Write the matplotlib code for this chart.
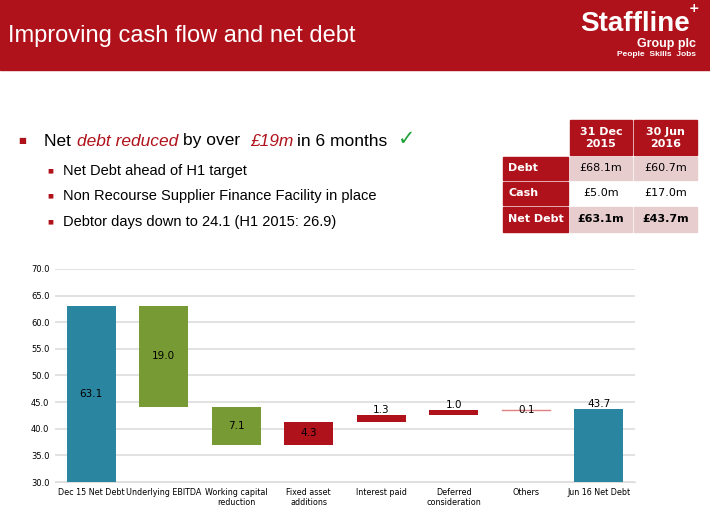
import matplotlib.pyplot as plt
from matplotlib.patches import Rectangle

RED = '#B0121B'
TEAL = '#2A86A0'
GREEN = '#779A35'
PINK = '#E8CDCF'

categories = ['Dec 15 Net Debt', 'Underlying EBITDA', 'Working capital\nreduction',
              'Fixed asset\nadditions', 'Interest paid', 'Deferred\nconsideration',
              'Others', 'Jun 16 Net Debt']
changes = [63.1, -19.0, -7.1, 4.3, 1.3, 1.0, 0.1, 43.7]
kinds = ['total', 'down', 'down', 'up', 'up', 'up', 'up', 'total']

table_cols = ['31 Dec\n2015', '30 Jun\n2016']
table_rows = ['Debt', 'Cash', 'Net Debt']
table_vals = [['£68.1m', '£60.7m'], ['£5.0m', '£17.0m'], ['£63.1m', '£43.7m']]

W, H = 710, 515
fig = plt.figure(figsize=(W / 100, H / 100), dpi=100)


def px(x, y):
    return x / W, 1 - y / H


def box(x0, y0, x1, y1, color):
    fig.patches.append(Rectangle(px(x0, y1), (x1 - x0) / W, (y1 - y0) / H,
                                 transform=fig.transFigure, color=color, zorder=0))


# header band
box(0, 0, W, 70, RED)
fig.text(*px(8, 36), 'Improving cash flow and net debt', color='white', fontsize=17,
         va='center', family='Liberation Sans')
fig.text(*px(690, 24), 'Staffline', color='white', fontsize=20, fontweight='bold',
         ha='right', va='center', family='Liberation Sans')
fig.text(*px(699, 9), '+', color='white', fontsize=9, fontweight='bold', ha='right', va='center')
fig.text(*px(696, 44), 'Group plc', color='white', fontsize=9, fontweight='bold',
         ha='right', va='center', family='Liberation Sans')
fig.text(*px(696, 54), 'People  Skills  Jobs', color='white', fontsize=6, fontweight='bold',
         ha='right', va='center', family='Liberation Sans')

# bullets
fig.text(*px(18, 141), '■', color=RED, fontsize=6, va='center')
fig.text(*px(44, 141), 'Net ', fontsize=12.5, va='center', family='Liberation Sans')
fig.text(*px(77, 141), 'debt reduced', fontsize=12.5, va='center', color=RED, style='italic',
         family='Liberation Sans')
fig.text(*px(183, 141), 'by over ', fontsize=12.5, va='center', family='Liberation Sans')
fig.text(*px(250, 141), '£19m', fontsize=12.5, va='center', color=RED, style='italic',
         family='Liberation Sans')
fig.text(*px(297, 141), 'in 6 months', fontsize=12.5, va='center', family='Liberation Sans')
fig.text(*px(398, 139), '✓', fontsize=15, va='center', color='#22A33A', family='DejaVu Sans')
for y, s in [(171, 'Net Debt ahead of H1 target'),
             (196, 'Non Recourse Supplier Finance Facility in place'),
             (222, 'Debtor days down to 24.1 (H1 2015: 26.9)')]:
    fig.text(*px(47, y), '■', color=RED, fontsize=4.5, va='center')
    fig.text(*px(63, y), s, fontsize=10.5, va='center', family='Liberation Sans')

# table
cx = [(570, 632), (634, 697)]
for (x0, x1), c in zip(cx, table_cols):
    box(x0, 120, x1, 155, RED)
    fig.text(*px((x0 + x1) / 2, 138), c, color='white', fontsize=8, fontweight='bold',
             ha='center', va='center', linespacing=1.3)
rows_y = [(157, 180), (182, 205), (207, 232)]
for i, ((y0, y1), r) in enumerate(zip(rows_y, table_rows)):
    box(503, y0, 568, y1, RED)
    fig.text(*px(508, (y0 + y1) / 2), r, color='white', fontsize=8, fontweight='bold', va='center')
    for (x0, x1), v in zip(cx, table_vals[i]):
        box(x0, y0, x1, y1, 'white' if i == 1 else PINK)
        fig.text(*px((x0 + x1) / 2, (y0 + y1) / 2), v, fontsize=8, ha='center', va='center',
                 fontweight='bold' if i == 2 else 'normal')

# waterfall
ax = fig.add_axes([55 / W, 1 - 482 / H, 580 / W, 213 / H])
level = 0
for i, (c, k) in enumerate(zip(changes, kinds)):
    if k == 'total':
        bottom, height, color = 30, c - 30, TEAL
        level = c
        ytxt = (c + 30) / 2 if i == 0 else c + 0.9
    else:
        top = level
        level = level + c
        bottom, height = min(top, level), abs(c)
        color = GREEN if k == 'down' else RED
        ytxt = bottom + height / 2 if height > 2 else bottom + height + 0.9
    if height < 0.3:
        ax.plot([i - 0.33, i + 0.33], [bottom, bottom], color='#E08080', lw=1, zorder=3)
        ytxt = bottom
    else:
        ax.bar(i, height, bottom=bottom, width=0.67, color=color, zorder=3)
    ax.text(i, ytxt, f'{abs(c):.1f}', ha='center', va='center', fontsize=7.5, zorder=4)

ax.set_ylim(30, 70)
ax.set_xlim(-0.5, len(categories) - 0.5)
ax.set_yticks(range(30, 71, 5))
ax.set_yticklabels([f'{v:.1f}' for v in range(30, 71, 5)], fontsize=6)
ax.set_xticks(range(len(categories)))
ax.set_xticklabels(categories, fontsize=5.8, family='Liberation Sans Narrow')
ax.yaxis.grid(True, color='#DDDDDD', lw=1.2, zorder=0)
for s in ['top', 'right', 'left']:
    ax.spines[s].set_visible(False)
ax.spines['bottom'].set_color('#DDDDDD')
ax.tick_params(length=0, pad=4)

fig.savefig('out.png', dpi=100)
